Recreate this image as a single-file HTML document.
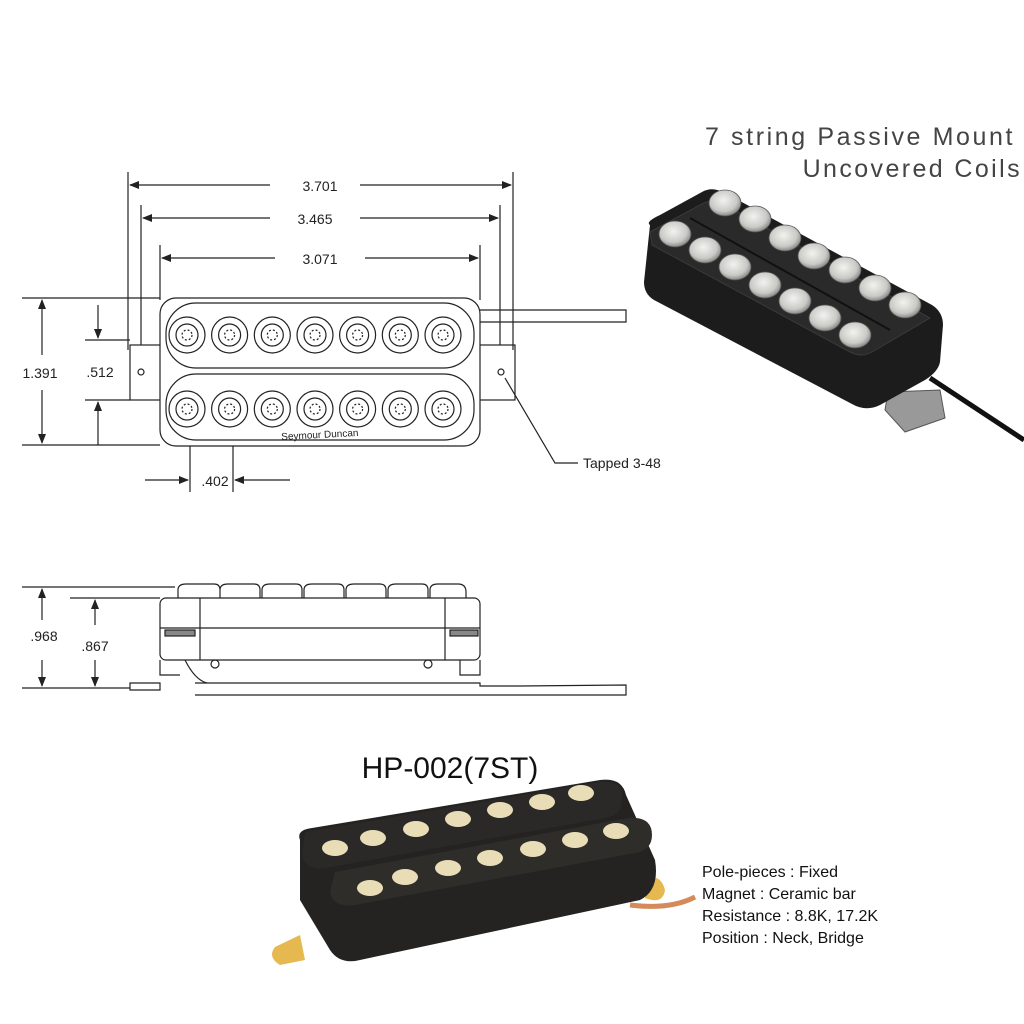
<!DOCTYPE html>
<html><head><meta charset="utf-8"><style>
html,body{margin:0;padding:0;background:#fff;}
svg{display:block;}
text{font-family:"Liberation Sans",Arial,sans-serif;}
</style></head><body>
<svg width="1024" height="1024" viewBox="0 0 1024 1024" xmlns="http://www.w3.org/2000/svg">
<defs>
<marker id="a" markerWidth="10" markerHeight="8" refX="9" refY="4" orient="auto" markerUnits="userSpaceOnUse"><path d="M0,0 L10,4 L0,8 z" fill="#222"/></marker>
<radialGradient id="pole" cx="45%" cy="40%" r="60%"><stop offset="0" stop-color="#f2f2f0"/><stop offset="0.7" stop-color="#c9c9c5"/><stop offset="1" stop-color="#888"/></radialGradient>
</defs>
<g stroke="#222" fill="none" stroke-width="1.2">
<line x1="128" y1="172" x2="128" y2="350"/><line x1="513" y1="172" x2="513" y2="350"/>
<line x1="141" y1="205" x2="141" y2="345"/><line x1="500" y1="205" x2="500" y2="345"/>
<line x1="160" y1="245" x2="160" y2="300"/><line x1="480" y1="245" x2="480" y2="300"/>
<line x1="270" y1="185" x2="130" y2="185" marker-end="url(#a)"/><line x1="360" y1="185" x2="511" y2="185" marker-end="url(#a)"/>
<line x1="270" y1="218" x2="143" y2="218" marker-end="url(#a)"/><line x1="360" y1="218" x2="498" y2="218" marker-end="url(#a)"/>
<line x1="275" y1="258" x2="162" y2="258" marker-end="url(#a)"/><line x1="365" y1="258" x2="478" y2="258" marker-end="url(#a)"/>
<line x1="22" y1="298" x2="160" y2="298"/><line x1="22" y1="445" x2="160" y2="445"/>
<line x1="42" y1="355" x2="42" y2="300" marker-end="url(#a)"/><line x1="42" y1="390" x2="42" y2="443" marker-end="url(#a)"/>
<line x1="85" y1="340" x2="130" y2="340"/><line x1="85" y1="400" x2="130" y2="400"/>
<line x1="98" y1="305" x2="98" y2="338" marker-end="url(#a)"/><line x1="98" y1="445" x2="98" y2="402" marker-end="url(#a)"/>
<line x1="190" y1="420" x2="190" y2="492"/><line x1="233" y1="420" x2="233" y2="492"/>
<line x1="145" y1="480" x2="188" y2="480" marker-end="url(#a)"/><line x1="290" y1="480" x2="235" y2="480" marker-end="url(#a)"/>
<polyline points="578,463 555,463 505,378" />
<rect x="130" y="345" width="32" height="55"/><rect x="476" y="345" width="39" height="55"/>
<circle cx="141" cy="372" r="3"/><circle cx="501" cy="372" r="3"/>
<path d="M478,310 H626 V322 H478"/>
<rect x="160" y="298" width="320" height="148" rx="16" fill="#fff"/>
<rect x="166" y="303" width="308" height="65" rx="30"/>
<rect x="166" y="374" width="308" height="66" rx="30"/>
</g>
<g stroke="#222" fill="none" stroke-width="1.2">
<g id="pr">
<circle cx="187" cy="335" r="18"/><circle cx="187" cy="335" r="11"/><circle cx="187" cy="335" r="5" stroke-dasharray="2 2"/>
</g>
<use href="#pr" x="42.6"/><use href="#pr" x="85.3"/><use href="#pr" x="128"/><use href="#pr" x="170.6"/><use href="#pr" x="213.3"/><use href="#pr" x="256"/>
<use href="#pr" y="74"/><use href="#pr" x="42.6" y="74"/><use href="#pr" x="85.3" y="74"/><use href="#pr" x="128" y="74"/><use href="#pr" x="170.6" y="74"/><use href="#pr" x="213.3" y="74"/><use href="#pr" x="256" y="74"/>
</g>
<text x="320" y="191" font-size="14" text-anchor="middle" fill="#222">3.701</text>
<text x="315" y="224" font-size="14" text-anchor="middle" fill="#222">3.465</text>
<text x="320" y="264" font-size="14" text-anchor="middle" fill="#222">3.071</text>
<text x="40" y="378" font-size="14" text-anchor="middle" fill="#222">1.391</text>
<text x="100" y="377" font-size="14" text-anchor="middle" fill="#222">.512</text>
<text x="215" y="486" font-size="14" text-anchor="middle" fill="#222">.402</text>
<text x="583" y="468" font-size="14" fill="#222">Tapped 3-48</text>
<text x="320" y="438" font-size="10" text-anchor="middle" fill="#222" transform="rotate(-3 320 438)">Seymour Duncan</text>

<g stroke="#222" fill="none" stroke-width="1.2">
<line x1="22" y1="587" x2="175" y2="587"/><line x1="70" y1="598" x2="160" y2="598"/>
<line x1="22" y1="688" x2="130" y2="688"/>
<line x1="42" y1="620" x2="42" y2="589" marker-end="url(#a)"/><line x1="42" y1="660" x2="42" y2="686" marker-end="url(#a)"/>
<line x1="95" y1="625" x2="95" y2="600" marker-end="url(#a)"/><line x1="95" y1="660" x2="95" y2="686" marker-end="url(#a)"/>
<path d="M178,598 v-8 q0,-6 8,-6 h28 q6,0 6,6 v8 M220,598 v-8 q0,-6 8,-6 h26 q6,0 6,6 v8 M262,598 v-8 q0,-6 8,-6 h26 q6,0 6,6 v8 M304,598 v-8 q0,-6 8,-6 h26 q6,0 6,6 v8 M346,598 v-8 q0,-6 8,-6 h26 q6,0 6,6 v8 M388,598 v-8 q0,-6 8,-6 h26 q6,0 6,6 v8 M430,598 v-8 q0,-6 8,-6 h20 q8,0 8,8 v6"/>
<rect x="160" y="598" width="320" height="62" rx="6"/>
<line x1="200" y1="598" x2="200" y2="660"/><line x1="445" y1="598" x2="445" y2="660"/>
<line x1="160" y1="628" x2="480" y2="628"/>
<rect x="165" y="630" width="30" height="6" fill="#888"/><rect x="450" y="630" width="28" height="6" fill="#888"/>
<path d="M160,660 V675 H180 M460,660 V675 H480 V660"/>
<path d="M185,660 q10,20 22,23" />
<circle cx="215" cy="664" r="4"/><circle cx="428" cy="664" r="4"/>
<path d="M130,683 H160 V690 H130 z"/>
<path d="M195,683 H480 V686 H520 L626,685 V695 H195"/>
</g>
<text x="44" y="641" font-size="14" text-anchor="middle" fill="#222">.968</text>
<text x="95" y="651" font-size="14" text-anchor="middle" fill="#222">.867</text>

<text x="705" y="145" font-size="25" fill="#444" letter-spacing="2.6">7 string Passive Mount</text>
<text x="1022" y="177" font-size="25" fill="#444" text-anchor="end" letter-spacing="2.4">Uncovered Coils</text>
<line x1="930" y1="378" x2="1024" y2="440" stroke="#111" stroke-width="5"/>
<polygon points="888,392 940,390 945,418 905,432 885,410" fill="#999" stroke="#555"/>
<path d="M650,225 Q645,222 660,215 L702,192 Q712,186 725,193 L932,305 Q943,312 943,325 L940,362 Q938,372 925,380 L880,405 Q866,412 852,404 L654,300 Q644,294 644,282 Z" fill="#1c1c1c"/>
<path d="M650,232 L702,204 Q712,198 725,205 L930,318 L872,352 Q862,358 850,352 L652,245 Z" fill="#2a2a2a" stroke="#3a3a3a"/>
<path d="M690,218 L890,330" stroke="#111" stroke-width="2"/>
<g fill="url(#pole)" stroke="#555" stroke-width="0.8">
<ellipse cx="725" cy="203" rx="16" ry="13"/><ellipse cx="755" cy="219" rx="16" ry="13"/><ellipse cx="785" cy="238" rx="16" ry="13"/><ellipse cx="814" cy="256" rx="16" ry="13"/><ellipse cx="845" cy="270" rx="16" ry="13"/><ellipse cx="875" cy="288" rx="16" ry="13"/><ellipse cx="905" cy="305" rx="16" ry="13"/>
<ellipse cx="675" cy="234" rx="16" ry="13"/><ellipse cx="705" cy="250" rx="16" ry="13"/><ellipse cx="735" cy="267" rx="16" ry="13"/><ellipse cx="765" cy="285" rx="16" ry="13"/><ellipse cx="795" cy="301" rx="16" ry="13"/><ellipse cx="825" cy="318" rx="16" ry="13"/><ellipse cx="855" cy="335" rx="16" ry="13"/>
</g>

<text x="450" y="778" font-size="30" text-anchor="middle" fill="#111">HP-002(7ST)</text>
<path d="M645,880 q15,-8 20,10 q-2,15 -20,8 z" fill="#e6b850"/>
<path d="M300,935 l-25,12 q-8,10 5,18 l25,-5 z" fill="#e6b850"/>
<path d="M630,905 q40,5 65,-8" stroke="#d58a5a" stroke-width="5" fill="none"/>
<path d="M300,840 Q296,830 312,828 L600,780 Q622,777 626,795 L655,860 Q660,890 640,900 L360,960 Q340,965 330,950 L300,900 Z" fill="#252321"/>
<path d="M305,832 L600,782 Q625,780 622,800 Q622,815 605,818 L325,868 Q305,870 302,855 Z" fill="#2b2927"/>
<path d="M335,872 L628,818 Q652,816 652,835 Q652,850 635,853 L355,905 Q333,908 330,892 Z" fill="#2f2d2a"/>
<g fill="#e9ddb8">
<ellipse cx="335" cy="848" rx="13" ry="8"/><ellipse cx="373" cy="838" rx="13" ry="8"/><ellipse cx="416" cy="829" rx="13" ry="8"/><ellipse cx="458" cy="819" rx="13" ry="8"/><ellipse cx="500" cy="810" rx="13" ry="8"/><ellipse cx="542" cy="802" rx="13" ry="8"/><ellipse cx="581" cy="793" rx="13" ry="8"/>
<ellipse cx="370" cy="888" rx="13" ry="8"/><ellipse cx="405" cy="877" rx="13" ry="8"/><ellipse cx="448" cy="868" rx="13" ry="8"/><ellipse cx="490" cy="858" rx="13" ry="8"/><ellipse cx="533" cy="849" rx="13" ry="8"/><ellipse cx="575" cy="840" rx="13" ry="8"/><ellipse cx="616" cy="831" rx="13" ry="8"/>
</g>
<g font-size="16" fill="#111">
<text x="702" y="877">Pole-pieces : Fixed</text>
<text x="702" y="899">Magnet : Ceramic bar</text>
<text x="702" y="921">Resistance : 8.8K, 17.2K</text>
<text x="702" y="943">Position : Neck, Bridge</text>
</g>
</svg>
</body></html>
